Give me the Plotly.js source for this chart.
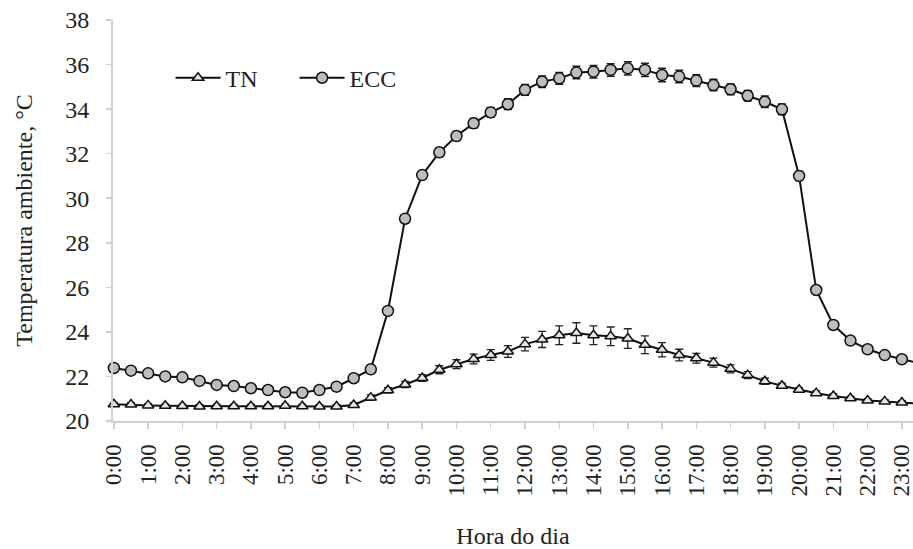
<!DOCTYPE html>
<html>
<head>
<meta charset="utf-8">
<script src="https://cdn.plot.ly/plotly-3.0.1.min.js"></script>
<style>html,body{margin:0;padding:0;background:#fff;}#chart{width:913px;height:549px;}</style>
</head>
<body>
<div id="chart"></div>
<script>
const times = ["0:00","0:30","1:00","1:30","2:00","2:30","3:00","3:30","4:00","4:30","5:00","5:30",
  "6:00","6:30","7:00","7:30","8:00","8:30","9:00","9:30","10:00","10:30","11:00","11:30",
  "12:00","12:30","13:00","13:30","14:00","14:30","15:00","15:30","16:00","16:30","17:00","17:30",
  "18:00","18:30","19:00","19:30","20:00","20:30","21:00","21:30","22:00","22:30","23:00","23:30"];
const hourLabels = ["0:00","1:00","2:00","3:00","4:00","5:00","6:00","7:00","8:00","9:00","10:00","11:00",
  "12:00","13:00","14:00","15:00","16:00","17:00","18:00","19:00","20:00","21:00","22:00","23:00"];
const tnTemp = [20.75,20.74,20.70,20.68,20.67,20.65,20.66,20.66,20.66,20.66,20.68,20.66,
  20.65,20.65,20.72,21.05,21.38,21.64,21.93,22.30,22.55,22.78,22.96,23.12,
  23.45,23.66,23.85,23.95,23.85,23.80,23.70,23.42,23.20,22.96,22.82,22.62,
  22.34,22.06,21.78,21.58,21.40,21.25,21.12,21.02,20.92,20.88,20.83,20.78];
const tnErr = [0.08,0.08,0.08,0.08,0.08,0.08,0.08,0.08,0.08,0.08,0.08,0.08,
  0.08,0.08,0.10,0.12,0.12,0.14,0.15,0.18,0.20,0.22,0.24,0.26,
  0.30,0.36,0.42,0.46,0.42,0.42,0.44,0.40,0.32,0.26,0.22,0.20,
  0.18,0.16,0.14,0.12,0.10,0.10,0.10,0.08,0.08,0.08,0.08,0.08];
const eccTemp = [22.38,22.26,22.14,22.00,21.96,21.80,21.62,21.57,21.47,21.39,21.29,21.27,
  21.39,21.54,21.92,22.32,24.94,29.08,31.04,32.06,32.79,33.36,33.85,34.22,
  34.86,35.23,35.38,35.64,35.68,35.76,35.83,35.76,35.53,35.46,35.28,35.08,
  34.89,34.60,34.33,33.99,31.00,25.88,24.31,23.61,23.22,22.96,22.77,22.60];
const eccErr = [0.12,0.12,0.12,0.12,0.12,0.12,0.15,0.15,0.15,0.15,0.18,0.18,
  0.18,0.18,0.18,0.18,0.18,0.18,0.18,0.20,0.20,0.22,0.22,0.24,
  0.24,0.26,0.26,0.28,0.28,0.28,0.30,0.30,0.30,0.28,0.26,0.26,
  0.24,0.24,0.26,0.24,0.20,0.18,0.16,0.14,0.12,0.12,0.12,0.12];

const serif = "Liberation Serif, Times New Roman, serif";
const txt = "#222";

const traces = [
  {
    name: "TN", type: "scatter", mode: "lines+markers", x: times, y: tnTemp,
    cliponaxis: false,
    line: {color: "#111", width: 2},
    marker: {symbol: "triangle-up", size: 10, color: "#e6e6e6", line: {color: "#111", width: 1.5}},
    error_y: {type: "data", array: tnErr, visible: true, color: "#222", thickness: 1.3, width: 4}
  },
  {
    name: "ECC", type: "scatter", mode: "lines+markers", x: times, y: eccTemp,
    cliponaxis: false,
    line: {color: "#111", width: 2},
    marker: {symbol: "circle", size: 11, color: "#bdbdbd", line: {color: "#111", width: 1.5}},
    error_y: {type: "data", array: eccErr, visible: true, color: "#222", thickness: 1.5, width: 4}
  }
];

const layout = {
  width: 913, height: 549,
  margin: {l: 113, r: 0, t: 20, b: 128},
  paper_bgcolor: "#fff", plot_bgcolor: "#fff",
  font: {family: serif, size: 23, color: txt},
  showlegend: true,
  legend: {
    orientation: "h", x: 0.072, xanchor: "left", y: 0.855, yanchor: "middle",
    bgcolor: "rgba(0,0,0,0)", font: {family: serif, size: 24, color: txt},
    itemwidth: 45, entrywidth: 64, entrywidthmode: "pixels"
  },
  xaxis: {
    type: "category", range: [-0.05, 46.65],
    tickmode: "array", tickvals: hourLabels, ticktext: hourLabels,
    tickangle: -90, ticks: "outside", ticklen: 6, tickcolor: "#d0d0d0", tickwidth: 1.5,
    showline: true, linecolor: "#d0d0d0", linewidth: 2,
    showgrid: false, zeroline: false,
    tickfont: {family: serif, size: 23, color: txt},
    ticklabelstandoff: 6,
    title: {text: "Hora do dia", font: {family: serif, size: 24, color: txt}, standoff: 36}
  },
  yaxis: {
    range: [20, 38], dtick: 2, tick0: 20,
    ticks: "outside", ticklen: 5, tickcolor: "#d0d0d0", tickwidth: 1.5,
    showline: true, linecolor: "#d0d0d0", linewidth: 2,
    showgrid: false, zeroline: false,
    tickfont: {family: serif, size: 24, color: txt},
    ticklabelstandoff: 12,
    title: {text: "Temperatura ambiente, °C", font: {family: serif, size: 24, color: txt}, standoff: 26}
  }
};

Plotly.newPlot("chart", traces, layout, {displayModeBar: false, staticPlot: true});
</script>
</body>
</html>
